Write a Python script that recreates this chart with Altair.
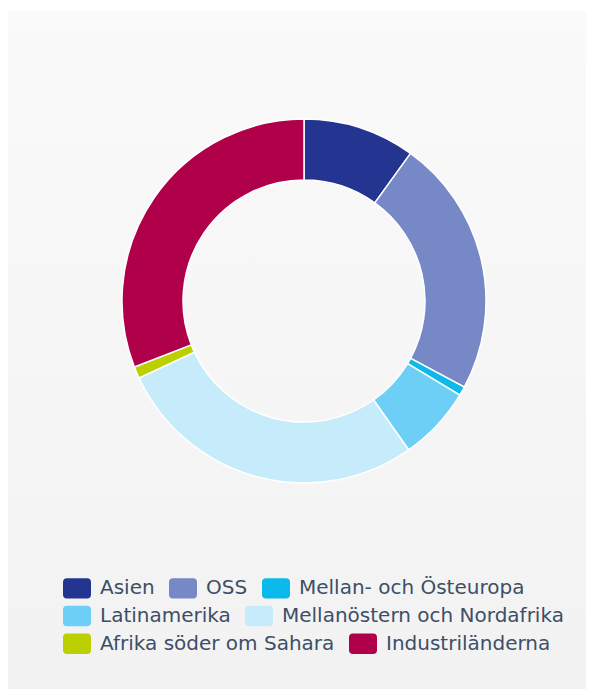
import altair as alt
import pandas as pd

# Data (percent shares)
regions = ["Asien", "OSS", "Mellan- och Östeuropa", "Latinamerika",
           "Mellanöstern och Nordafrika", "Afrika söder om Sahara", "Industriländerna"]
shares = [9.95, 22.9, 0.8, 6.6, 27.8, 1.05, 30.9]
colors = ["#233590", "#7788c6", "#0bb9ea", "#6dcff6", "#c6ecfb", "#bccf00", "#b0004a"]
legend_rows = [
    ["Asien", "OSS", "Mellan- och Östeuropa"],
    ["Latinamerika", "Mellanöstern och Nordafrika"],
    ["Afrika söder om Sahara", "Industriländerna"],
]

df = pd.DataFrame({"region": regions, "value": shares, "order": list(range(len(regions)))})
color_of = dict(zip(regions, colors))

SYMBOL = ("M-0.714,-0.732 L0.714,-0.732 Q1,-0.732 1,-0.446 L1,0.446 Q1,0.732 0.714,0.732 "
          "L-0.714,0.732 Q-1,0.732 -1,0.446 L-1,-0.446 Q-1,-0.732 -0.714,-0.732 Z")

base = alt.Chart(df).transform_window(
    cum="sum(value)", frame=[None, 0], sort=[alt.SortField("order")]
).transform_calculate(start="datum.cum - datum.value")

legend_y = [563, 590.7, 618.3]

layers = []
# background panel with a soft vertical gradient
bg = alt.Chart(alt.Data(values=[{}])).mark_rect(
    color=alt.Gradient(
        gradient="linear",
        stops=[alt.GradientStop(color="#fafafa", offset=0),
               alt.GradientStop(color="#f2f2f2", offset=1)],
        x1=0, x2=0, y1=0, y2=1,
    )
).encode(x=alt.value(0), x2=alt.value("width"), y=alt.value(0), y2=alt.value("height"))
layers.append(bg)

for row, ly in zip(legend_rows, legend_y):
    layer = base.transform_filter(
        alt.FieldOneOfPredicate(field="region", oneOf=row)
    ).mark_arc(outerRadius=182, innerRadius=121, stroke="white", strokeWidth=1.5).encode(
        theta=alt.Theta("start:Q", scale=alt.Scale(domain=[0, 100])),
        theta2="cum:Q",
        x=alt.value(296),
        y=alt.value(290),
        color=alt.Color(
            "region:N",
            scale=alt.Scale(domain=row, range=[color_of[r] for r in row]),
            sort=row,
            legend=alt.Legend(
                title=None, orient="none", direction="horizontal",
                legendX=55, legendY=ly,
            ),
        ),
    )
    layers.append(layer)

chart = alt.layer(*layers).resolve_scale(color="independent").properties(
    width=578, height=678,
    autosize=alt.AutoSizeParams(type="none"),
    padding={"left": 0, "top": 3, "right": 0, "bottom": 0},
    background="white",
).configure_view(stroke=None).configure_legend(
    labelFont="DejaVu Sans", labelFontSize=20, labelColor="#3d4f66",
    labelOffset=9, columnPadding=14, symbolSize=784, symbolType=SYMBOL,
    symbolStrokeWidth=0, symbolOpacity=1, labelLimit=600,
)

chart.save("out.html", embed_options={"renderer": "svg", "actions": False})
